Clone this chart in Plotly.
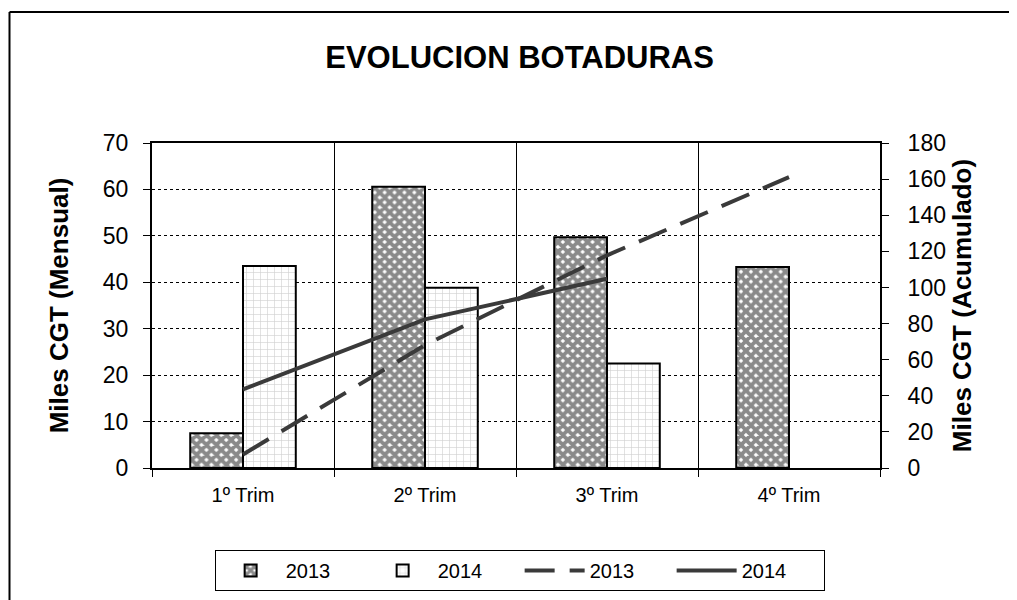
import plotly.graph_objects as go

categories = ["1º Trim", "2º Trim", "3º Trim", "4º Trim"]
bars_2013 = [7.5, 60.6, 49.7, 43.3]
bars_2014 = [43.5, 38.8, 22.5, None]
acum_2013 = [7.5, 68.1, 117.8, 161.1]
acum_2014 = [43.5, 82.3, 104.8, None]

FONT = "Liberation Sans, Arial, sans-serif"
DARK = "#3a3a3a"

# page has an 8px body margin, so the figure is sized/offset to compensate
L, T, PW, PH = 144, 135, 728, 325
W, H = 1009, 592

fig = go.Figure()
fig.add_trace(go.Bar(
    x=categories, y=bars_2013, name="2013",
    marker=dict(color="white", line=dict(color="black", width=2),
                pattern=dict(shape="x", fgcolor="#151515", bgcolor="white", size=7, solidity=0.8)),
))
fig.add_trace(go.Bar(
    x=categories, y=bars_2014, name="2014",
    marker=dict(color="white", line=dict(color="black", width=2),
                pattern=dict(shape="+", fgcolor="#a5a5a5", bgcolor="white", size=7, solidity=0.18)),
))
fig.add_trace(go.Scatter(
    x=categories, y=acum_2013, name="2013", yaxis="y2", mode="lines",
    line=dict(color=DARK, width=4, dash="30px,15px"),
))
fig.add_trace(go.Scatter(
    x=categories, y=acum_2014, name="2014", yaxis="y2", mode="lines",
    line=dict(color=DARK, width=4),
))

fig.update_layout(
    width=W, height=H,
    margin=dict(l=L, r=W - L - PW, t=T, b=H - T - PH, autoexpand=False),
    paper_bgcolor="white", plot_bgcolor="white",
    font=dict(family=FONT, color="black"),
    title=dict(text="<b>EVOLUCION BOTADURAS</b>", x=0.507, xanchor="center",
               y=1 - 49 / H, yanchor="middle",
               font=dict(size=31, family=FONT, color="black")),
    barmode="group", bargap=0.42, bargroupgap=0,
    xaxis=dict(
        type="category", tickson="boundaries", showgrid=True, gridcolor="black", gridwidth=1,
        ticks="outside", ticklen=7, tickcolor="black", tickwidth=1,
        showline=True, linecolor="black", linewidth=2, mirror=True, ticklabelstandoff=8,
        tickfont=dict(size=20, family=FONT), zeroline=False, automargin=False,
    ),
    yaxis=dict(
        range=[0, 70], dtick=10, showgrid=True, gridcolor="black", gridwidth=1, griddash="dot",
        ticks="outside", ticklen=7, tickcolor="black", ticklabelstandoff=10,
        showline=True, linecolor="black", linewidth=2, zeroline=False, automargin=False,
        tickfont=dict(size=23, family=FONT),
        title=dict(text="<b>Miles CGT (Mensual)</b>", font=dict(size=26, family=FONT), standoff=27),
    ),
    yaxis2=dict(
        overlaying="y", side="right", range=[0, 180], dtick=20, showgrid=False,
        ticks="outside", ticklen=7, tickcolor="black", ticklabelstandoff=14,
        showline=True, linecolor="black", linewidth=2, zeroline=False, automargin=False,
        tickfont=dict(size=23, family=FONT),
        title=dict(text="<b>Miles CGT (Acumulado)</b>", font=dict(size=26, family=FONT), standoff=8),
    ),
    legend=dict(
        orientation="h", x=0.505, xanchor="center", y=-0.252, yanchor="top",
        bordercolor="black", borderwidth=1, bgcolor="white",
        font=dict(size=20, family=FONT), traceorder="normal",
        itemwidth=60, entrywidth=77,
    ),
    shapes=[
        dict(type="line", xref="paper", yref="paper", x0=(1.5 - L) / PW, x1=(1030 - L) / PW,
             y0=(T + PH - 4) / PH, y1=(T + PH - 4) / PH, line=dict(color="black", width=2)),
        dict(type="line", xref="paper", yref="paper", x0=(1.5 - L) / PW, x1=(1.5 - L) / PW,
             y0=(T + PH - 4) / PH, y1=(T + PH - 620) / PH, line=dict(color="black", width=2)),
    ],
)

fig.write_html("out.html")
